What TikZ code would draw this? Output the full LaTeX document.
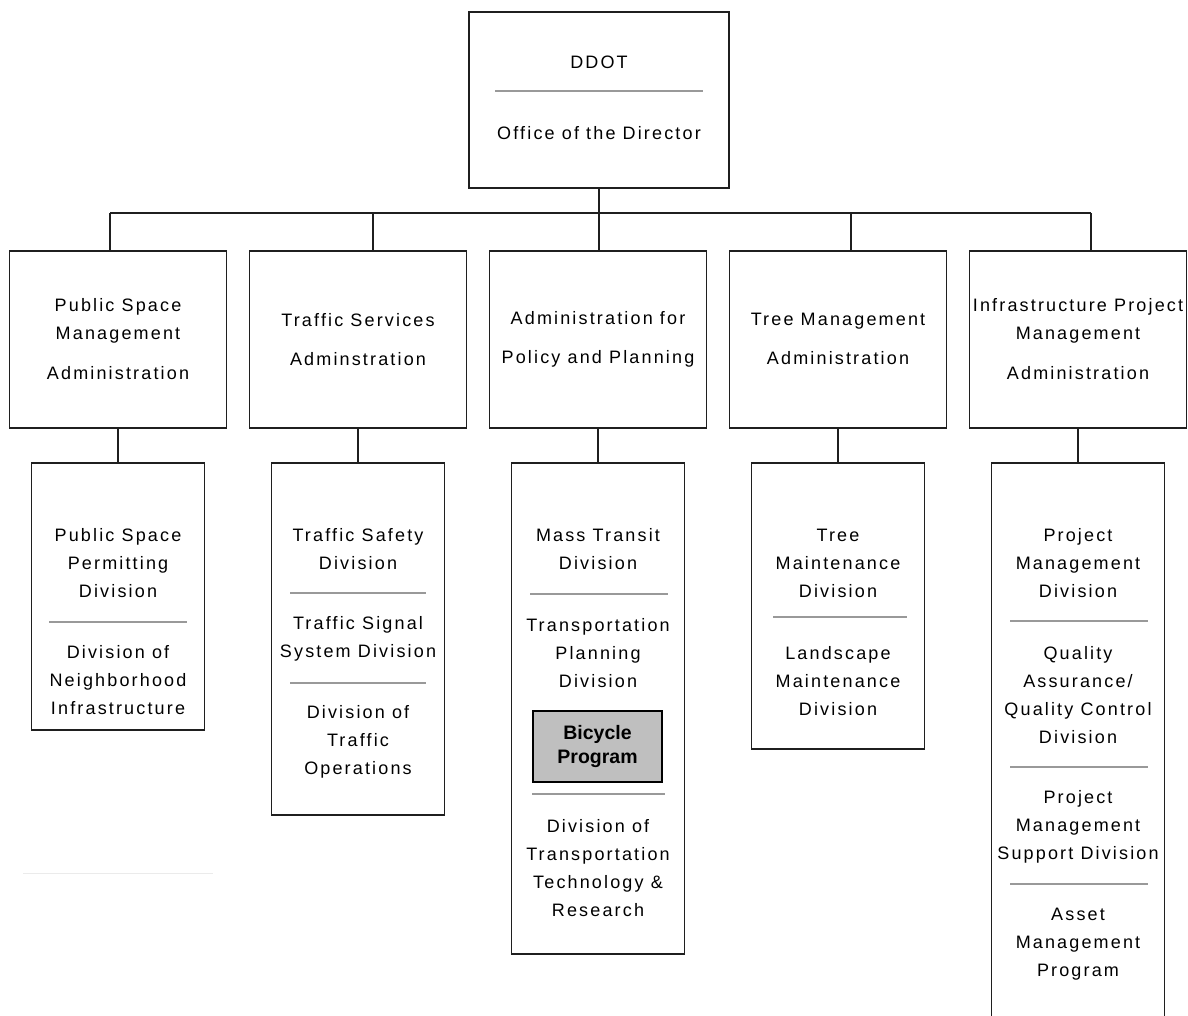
\documentclass[tikz,border=0pt]{standalone}
\usepackage{fontspec}
\setmainfont{Liberation Sans}
\newfontfamily\orgfont[LetterSpace=12]{Liberation Sans}
\newcommand{\orgtext}{\orgfont\fontsize{18}{28}\selectfont}
\newcommand{\bikefont}{\bfseries\fontsize{19.5}{24}\selectfont}
\tikzset{
  orgbox/.style={draw=black!88,line width=1.6pt,fill=white,inner sep=0pt},
  topbox/.style={orgbox,anchor=north,minimum width=260,minimum height=176},
  adminbox/.style={orgbox,anchor=north,minimum width=217,minimum height=177,
    align=center,font=\orgtext},
  divbox/.style={orgbox,anchor=north,minimum width=173},
  divtext/.style={align=center,font=\orgtext,inner sep=0pt},
  bikebox/.style={draw=black,line width=1.3pt,fill=black!25,minimum width=129,
    minimum height=71,align=center,font=\bikefont,inner sep=0pt},
  sepline/.style={black!40,line width=1.3pt},
  orgline/.style={black!88,line width=1.6pt},
}
\begin{document}
\begin{tikzpicture}[x=1pt,y=-1pt]
  \clip (0,0) rectangle (1188,1015);
  \fill[white] (0,0) rectangle (1188,1015);
  % director
  \node[topbox] (ddot) at (599,11) {};
  \node[divtext] (ddott) at (599,62) {DDOT};
  \node[divtext] (offt) at (599,133) {Office of the Director};
  \draw[sepline] (495,91) -- (703,91);
  % administrations
  \node[adminbox] (psma) at (118,250) {Public Space\\Management\\[12pt]Administration};
  \node[adminbox] (tsa) at (358,250) {Traffic Services\\[11pt]Adminstration};
  \node[adminbox] (app) at (598,250) {Administration for\\[11pt]Policy and Planning};
  \node[adminbox] (tma) at (838,250) {Tree Management\\[11pt]Administration};
  \node[adminbox] (ipma) at (1078,250) {Infrastructure Project\\Management\\[12pt]Administration};
  \coordinate (bus1) at (110,213);
  \coordinate (bus2) at (373,213);
  \coordinate (bus3) at (599,213);
  \coordinate (bus4) at (851,213);
  \coordinate (bus5) at (1091,213);
  \draw[orgline] (ddot.south) -- (ddot.south |- bus3);
  \draw[orgline] (bus1) -- (bus5);
  \draw[orgline] (bus1) -- (bus1 |- psma.north);
  \draw[orgline] (bus2) -- (bus2 |- tsa.north);
  \draw[orgline] (bus3) -- (bus3 |- app.north);
  \draw[orgline] (bus4) -- (bus4 |- tma.north);
  \draw[orgline] (bus5) -- (bus5 |- ipma.north);
  % divisions
  \node[divbox,minimum height=267] (psmd) at (118,462) {};
  \node[divbox,minimum height=352] (tsd) at (358,462) {};
  \node[divbox,minimum height=491] (appd) at (598,462) {};
  \node[divbox,minimum height=286] (tmd) at (838,462) {};
  \node[divbox,minimum height=590] (ipmd) at (1078,462) {};
  \draw[orgline] (psma.south) -- (psmd.north);
  \draw[orgline] (tsa.south) -- (tsd.north);
  \draw[orgline] (app.south) -- (appd.north);
  \draw[orgline] (tma.south) -- (tmd.north);
  \draw[orgline] (ipma.south) -- (ipmd.north);

  \node[divtext] (pspd) at (118,563) {Public Space\\Permitting\\Division};
  \node[divtext] (dni) at (118,680) {Division of\\Neighborhood\\Infrastructure};
  \draw[sepline] (49,622) -- (187,622);

  \node[divtext] (tsfd) at (358,549) {Traffic Safety\\Division};
  \node[divtext] (tssd) at (358,639) {Traffic Signal\\System Division};
  \node[divtext] (dto) at (358,742) {Division of\\Traffic\\Operations};
  \draw[sepline] (290,593) -- (426,593);
  \draw[sepline] (290,683) -- (426,683);

  \node[divtext] (mtd) at (598,549) {Mass Transit\\Division};
  \node[divtext] (tpd) at (598,653) {Transportation\\Planning\\Division};
  \node[bikebox] (bike) at (597.5,746.5) {Bicycle\\Program};
  \node[divtext] (dttr) at (598,868) {Division of\\Transportation\\Technology \&\\Research};
  \draw[sepline] (530,594) -- (668,594);
  \draw[sepline] (532,794) -- (665,794);

  \node[divtext] (tmnd) at (838,563) {Tree\\Maintenance\\Division};
  \node[divtext] (lmd) at (838,681) {Landscape\\Maintenance\\Division};
  \draw[sepline] (773,617) -- (907,617);

  \node[divtext] (pmd) at (1078,563) {Project\\Management\\Division};
  \node[divtext] (qaqc) at (1078,695) {Quality\\Assurance/\\Quality Control\\Division};
  \node[divtext] (pmsd) at (1078,827) {Project\\Management\\Support Division};
  \node[divtext] (amp) at (1078,944) {Asset\\Management\\Program};
  \draw[sepline] (1010,621) -- (1148,621);
  \draw[sepline] (1010,767) -- (1148,767);
  \draw[sepline] (1010,884) -- (1148,884);

  \draw[black!8,line width=1pt] (23,873) -- (213,873);
\end{tikzpicture}
\end{document}
